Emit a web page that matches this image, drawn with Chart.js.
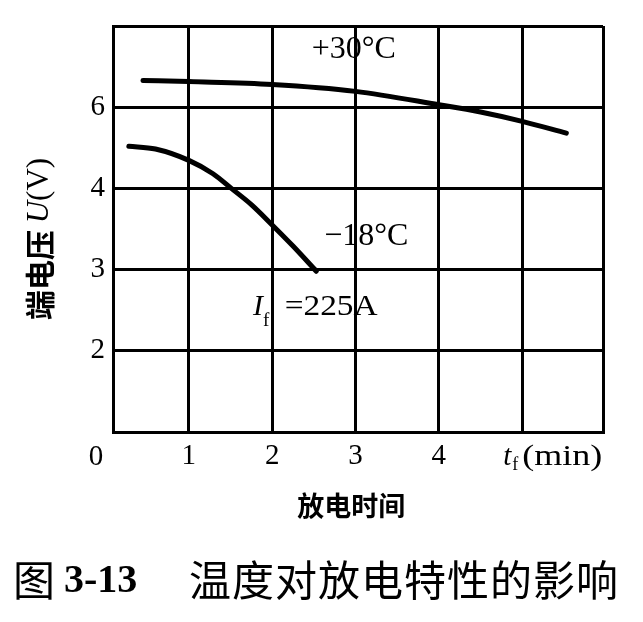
<!DOCTYPE html>
<html>
<head>
<meta charset="utf-8">
<script src="https://cdn.jsdelivr.net/npm/chart.js@4"></script>
<style>
  body { margin: 0; background: #fff; }
</style>
</head>
<body>
<canvas id="myChart" width="643" height="622"></canvas>
<script>
// discharge time t_f (min) and terminal voltage U (V)
const warmTime = [0.45, 1.0, 2.0, 3.0, 4.0, 4.5, 5.0, 5.53];
const warmVolt = [6.66, 6.63, 6.56, 6.39, 6.06, 5.88, 5.65, 5.36];
const coldTime = [0.28, 0.6, 1.0, 1.29, 1.51, 1.75, 2.0, 2.25, 2.53];
const coldVolt = [5.04, 4.97, 4.69, 4.36, 4.0, 3.8, 3.55, 3.29, 2.98];

// the y grid rows are evenly spaced but stand for these voltages
const yGridVolts = [0, 2, 3, 4, 6, 8];
const yTickLabels = ['', '2', '3', '4', '6', ''];
const xGridValues = [1, 2, 3, 4, 5];
const xTickLabels = ['1', '2', '3', '4', ''];
const xMin = 0.09;
const xMax = 5.97;

const serif = '"Liberation Serif", "DejaVu Serif", serif';
const cjk = '"Noto Sans CJK SC", sans-serif';

// voltage -> row position on the uneven axis
const toPos = (v) => {
    for (let i = 0; i < yGridVolts.length - 1; i++) {
        const a = yGridVolts[i], b = yGridVolts[i + 1];
        if (v <= b || i === yGridVolts.length - 2) return i + (v - a) / (b - a);
    }
};

const toPoints = (times, volts) => times.map((t, i) => ({ x: t, y: toPos(volts[i]) }));

// draws text squeezed/stretched to a given width (the scan is a bit wide)
const fitText = (ctx, text, x, y, width) => {
    const w = ctx.measureText(text).width;
    ctx.save();
    ctx.translate(x, y);
    ctx.scale(width / w, 1);
    ctx.fillText(text, 0, 0);
    ctx.restore();
};

// all the loose text of the figure
const figureText = {
    id: 'figureText',
    beforeDraw(chart) {
        const ctx = chart.ctx;
        ctx.save();
        ctx.fillStyle = '#fff';
        ctx.fillRect(0, 0, chart.width, chart.height);
        ctx.restore();
    },
    afterDraw(chart) {
        const ctx = chart.ctx;
        const xs = chart.scales.x;
        const ys = chart.scales.y;
        const area = chart.chartArea;
        ctx.save();
        ctx.fillStyle = '#000';
        ctx.textBaseline = 'alphabetic';

        // corner "0"
        ctx.font = '29px ' + serif;
        ctx.textAlign = 'center';
        ctx.fillText('0', area.left - 17, area.bottom + 33);

        // t_f (min)
        let x = xs.getPixelForValue(5) - 19;
        const base = area.bottom + 33;
        ctx.textAlign = 'left';
        ctx.font = 'italic 29px ' + serif;
        ctx.fillText('t', x, base);
        x += ctx.measureText('t').width + 1;
        ctx.font = '18px ' + serif;
        ctx.fillText('f', x, base + 5);
        ctx.font = '29px ' + serif;
        fitText(ctx, '(min)', xs.getPixelForValue(5), base, 80);

        // x title
        ctx.font = 'bold 27px ' + cjk;
        ctx.textAlign = 'center';
        ctx.textBaseline = 'middle';
        ctx.fillText('放电时间', xs.getPixelForValue(2.95), area.bottom + 74);

        // y title, rotated
        ctx.save();
        ctx.translate(40, 239);
        ctx.rotate(-Math.PI / 2);
        const parts = [
            { t: '端电压 ', f: 'bold 30px ' + cjk },
            { t: 'U', f: 'italic 31px ' + serif },
            { t: '(V)', f: '31px ' + serif }
        ];
        let total = 0;
        parts.forEach(p => { ctx.font = p.f; p.w = ctx.measureText(p.t).width; total += p.w; });
        let px = -total / 2;
        ctx.textAlign = 'left';
        parts.forEach(p => { ctx.font = p.f; ctx.fillText(p.t, px, 0); px += p.w; });
        ctx.restore();

        // curve labels
        ctx.textBaseline = 'alphabetic';
        ctx.textAlign = 'center';
        ctx.font = '32px ' + serif;
        ctx.fillText('+30°C', xs.getPixelForValue(2.98), ys.getPixelForValue(4.6));
        ctx.fillText('\u221218°C', xs.getPixelForValue(3.13), ys.getPixelForValue(2.30));

        // I_f = 225A
        ctx.textAlign = 'left';
        let ix = xs.getPixelForValue(1.77);
        const iy = ys.getPixelForValue(1.44);
        ctx.font = 'italic 30px ' + serif;
        ctx.fillText('I', ix, iy);
        ix += ctx.measureText('I').width;
        ctx.font = '19px ' + serif;
        ctx.fillText('f', ix, iy + 11);
        ctx.font = '30px ' + serif;
        fitText(ctx, '=225A', xs.getPixelForValue(2.15), iy, 93);

        // caption
        ctx.textBaseline = 'middle';
        ctx.font = '42px ' + cjk;
        ctx.textAlign = 'center';
        ctx.fillText('图', 34, 580);
        ctx.font = 'bold 40px ' + serif;
        ctx.textAlign = 'left';
        ctx.fillText('3-13', 64, 582);
        ctx.font = '42px ' + cjk;
        ctx.textAlign = 'center';
        const caption = '温度对放电特性的影响';
        [...caption].forEach((ch, i) => ctx.fillText(ch, 210 + i * 43, 580));

        ctx.restore();
    }
};

const ctx = document.getElementById('myChart').getContext('2d');
const chart = new Chart(ctx, {
    type: 'line',
    data: {
        datasets: [
            {
                label: '+30°C',
                data: toPoints(warmTime, warmVolt),
                borderColor: '#000',
                borderWidth: 5,
                borderCapStyle: 'round',
                pointRadius: 0,
                cubicInterpolationMode: 'monotone',
                fill: false
            },
            {
                label: '-18°C',
                data: toPoints(coldTime, coldVolt),
                borderColor: '#000',
                borderWidth: 5,
                borderCapStyle: 'round',
                pointRadius: 0,
                cubicInterpolationMode: 'monotone',
                fill: false
            }
        ]
    },
    options: {
        responsive: false,
        animation: false,
        devicePixelRatio: 1,
        layout: { padding: { left: 0, top: 26, right: 40, bottom: 150 } },
        plugins: {
            legend: { display: false },
            tooltip: { enabled: false }
        },
        scales: {
            x: {
                type: 'linear',
                min: xMin,
                max: xMax,
                afterBuildTicks: (scale) => {
                    scale.ticks = [xMin, ...xGridValues, xMax].map(v => ({ value: v }));
                },
                afterFit: (scale) => { scale.height = 40; },
                grid: { color: '#000', lineWidth: 3, drawTicks: false },
                border: { color: '#000', width: 3 },
                ticks: {
                    autoSkip: false,
                    maxRotation: 0,
                    padding: 7,
                    color: '#000',
                    font: { family: serif, size: 29 },
                    callback: (value) => {
                        const i = xGridValues.indexOf(value);
                        return i >= 0 ? xTickLabels[i] : '';
                    }
                }
            },
            y: {
                type: 'linear',
                min: 0,
                max: yGridVolts.length - 1,
                afterBuildTicks: (scale) => {
                    scale.ticks = yGridVolts.map((v, i) => ({ value: i }));
                },
                afterFit: (scale) => { scale.width = 113; },
                grid: { color: '#000', lineWidth: 3, drawTicks: false },
                border: { color: '#000', width: 3 },
                ticks: {
                    autoSkip: false,
                    padding: 8,
                    color: '#000',
                    font: { family: serif, size: 29 },
                    callback: (value) => yTickLabels[value] ?? ''
                }
            }
        }
    },
    plugins: [figureText]
});
</script>
</body>
</html>
